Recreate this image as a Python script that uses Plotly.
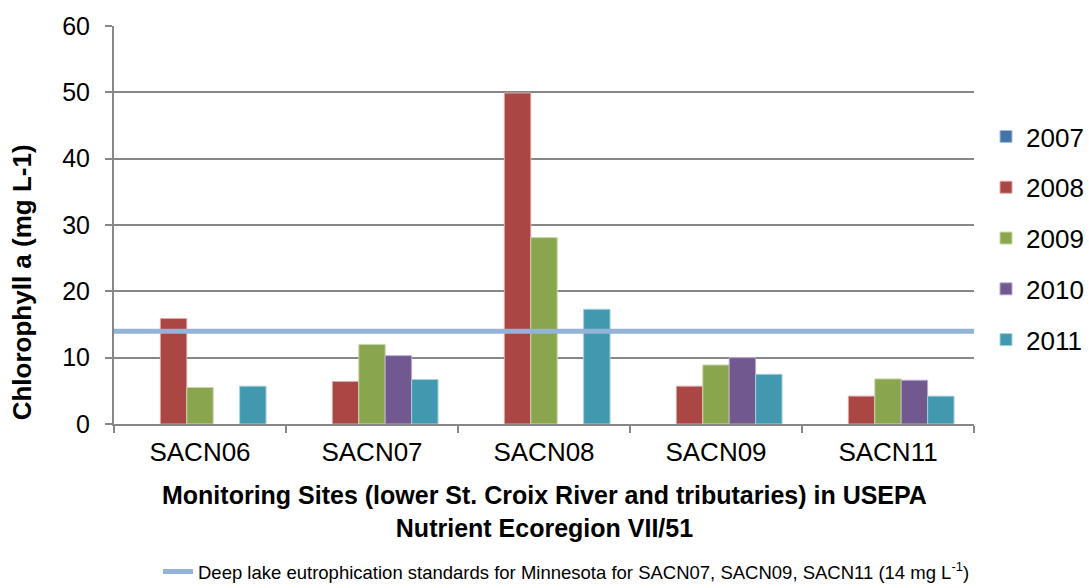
import plotly.graph_objects as go

# Monitoring sites and yearly chlorophyll a means (mg L-1)
sites = ["SACN06", "SACN07", "SACN08", "SACN09", "SACN11"]
years = ["2007", "2008", "2009", "2010", "2011"]
chl_2007 = [None, None, None, None, None]
chl_2008 = [15.9, 6.4, 49.9, 5.7, 4.2]
chl_2009 = [5.5, 12.0, 28.1, 8.9, 6.8]
chl_2010 = [None, 10.3, None, 10.0, 6.6]
chl_2011 = [5.7, 6.7, 17.3, 7.5, 4.2]
standard_value = 14
standard_label = ("Deep lake eutrophication standards for Minnesota for "
                  "SACN07, SACN09, SACN11 (14 mg L<sup>-1</sup>)")

series = [chl_2007, chl_2008, chl_2009, chl_2010, chl_2011]
colors = ["#4572A7", "#AA4643", "#89A54E", "#71588F", "#4198AF"]
edge_colors = ["#A9BEDA", "#D9A9A8", "#C9D8AC", "#B9ABCB", "#A6D0DC"]

FONT = "Liberation Sans, Arial, sans-serif"

fig = go.Figure()
for yr, vals, c, ec in zip(years, series, colors, edge_colors):
    fig.add_trace(go.Bar(
        x=sites, y=vals, name=yr, legendgroup=yr,
        marker=dict(color=c, line=dict(color=ec, width=1)),
    ))

# Eutrophication standard drawn across the full plot width
fig.add_trace(go.Scatter(
    x=[0, 1], y=[standard_value, standard_value], xaxis="x2",
    mode="lines", name=standard_label, legend="legend2",
    line=dict(color="#95B3D7", width=5), hoverinfo="skip",
))

fig.update_layout(
    width=1089, height=588,
    margin=dict(l=114, r=115, t=22, b=164),
    paper_bgcolor="white", plot_bgcolor="white",
    barmode="group", bargap=0.232, bargroupgap=0,
    font=dict(family=FONT, color="#000000"),
    xaxis=dict(
        type="category", showgrid=False,
        showline=True, linecolor="#878787", linewidth=2,
        ticks="outside", tickson="boundaries", ticklen=7,
        tickcolor="#878787", tickwidth=2, ticklabelstandoff=4,
        tickfont=dict(size=26, family=FONT),
    ),
    xaxis2=dict(overlaying="x", range=[0, 1], visible=False, fixedrange=True),
    yaxis=dict(
        range=[0, 60], dtick=10, showgrid=True, gridcolor="#878787", gridwidth=1.5,
        showline=True, linecolor="#878787", linewidth=2, zeroline=False,
        ticks="outside", ticklen=7, tickcolor="#878787", tickwidth=2,
        ticklabelstandoff=10,
        tickfont=dict(size=25, family=FONT),
    ),
    legend=dict(
        xref="container", x=986 / 1089, xanchor="left",
        y=0.466, yanchor="middle",
        font=dict(size=26, family=FONT),
        traceorder="grouped", tracegroupgap=14,
        bgcolor="rgba(0,0,0,0)",
    ),
    legend2=dict(
        orientation="h", xref="container", x=158 / 1089, xanchor="left",
        yref="container", y=16 / 588, yanchor="middle",
        font=dict(size=18.5, family=FONT),
        bgcolor="rgba(0,0,0,0)",
    ),
    showlegend=True,
    annotations=[
        dict(text="<b>Chlorophyll a (mg L-1)</b>", textangle=-90,
             xref="paper", yref="paper", x=-0.107, y=0.356,
             xanchor="center", yanchor="middle", showarrow=False,
             font=dict(size=26, family=FONT)),
        dict(text="<b>Monitoring Sites (lower St. Croix River and tributaries) in USEPA"
                  "<br>Nutrient Ecoregion VII/51</b>",
             xref="paper", yref="paper", x=0.5, y=-0.219,
             xanchor="center", yanchor="middle", showarrow=False,
             font=dict(size=25, family=FONT)),
    ],
)

fig.write_html("out.html")
